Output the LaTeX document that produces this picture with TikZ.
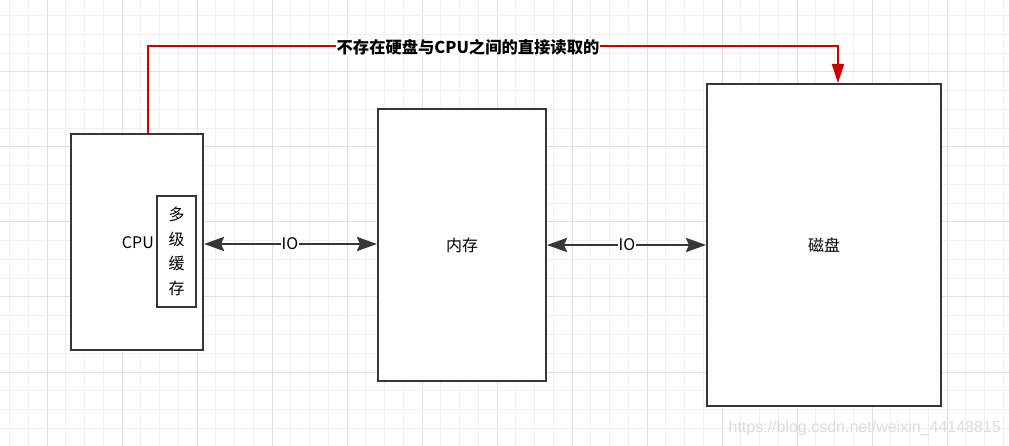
\documentclass[tikz,border=0pt]{standalone}
\usepackage{fontspec}
\setmainfont{Noto Sans CJK SC}
\newfontfamily\wmfont{Liberation Sans}
\usetikzlibrary{arrows.meta}
\definecolor{boxline}{HTML}{363636}
\definecolor{redline}{HTML}{CC0000}
\definecolor{gridminor}{HTML}{F0F0F0}
\definecolor{gridmajor}{HTML}{E0E0E0}
\definecolor{wmgray}{HTML}{DCDCDC}
\tikzset{
  box/.style={draw=boxline, line width=2pt, fill=white, inner sep=0pt},
  conn/.style={draw=boxline, line width=2.8pt, {Stealth[length=20pt,width=14pt,inset=3pt]}-{Stealth[length=20pt,width=14pt,inset=3pt]}},
  redconn/.style={draw=redline, line width=2pt, -{Triangle[length=19pt,width=12pt]}},
  lbl/.style={font=\fontsize{16}{18}\selectfont, text=black},
  edgelbl/.style={font=\fontsize{16}{18}\selectfont, fill=white, inner sep=1pt, text=black},
}
\begin{document}
\begin{tikzpicture}[x=1pt,y=-1pt]
\useasboundingbox (0,0) rectangle (1009,446);
\fill[white] (0,0) rectangle (1009,446);
% grid
\foreach \i in {0,...,54} {
  \pgfmathsetmacro{\gx}{9.5+18.75*\i}
  \pgfmathtruncatemacro{\m}{mod(\i,4)}
  \ifnum\m=2 \draw[gridmajor, line width=1pt] (\gx,0) -- (\gx,446);
  \else \draw[gridminor, line width=1pt] (\gx,0) -- (\gx,446); \fi
}
\foreach \i in {0,...,24} {
  \pgfmathsetmacro{\gy}{15.75+18.75*\i}
  \pgfmathtruncatemacro{\m}{mod(\i,4)}
  \ifnum\m=3 \draw[gridmajor, line width=1pt] (0,\gy) -- (1009,\gy);
  \else \draw[gridminor, line width=1pt] (0,\gy) -- (1009,\gy); \fi
}
% boxes
\node[box, minimum width=132pt, minimum height=216pt] (cpu) at (137,242) {};
\node[box, minimum width=39pt, minimum height=111pt] (cache) at (176.5,251.5) {};
\node[lbl, align=center, font=\fontsize{16}{24.5}\selectfont] (cachetxt) at (cache.center) {多\\级\\缓\\存};
\node[lbl, anchor=east, inner sep=0pt] (cputxt) at (154,243) {CPU};
\node[box, minimum width=168pt, minimum height=272pt] (mem) at (462,245) {};
\node[lbl] (memtxt) at (mem.center) {内存};
\node[box, minimum width=234pt, minimum height=322pt] (disk) at (824,245) {};
\node[lbl] (disktxt) at (disk.center) {磁盘};
% IO connectors
\draw[conn] (cpu.east |- 0,244) -- (mem.west |- 0,244);
\node[edgelbl] (io1) at (290,244) {IO};
\draw[conn] (mem.east) -- (disk.west);
\node[edgelbl] (io2) at (627,245) {IO};
% red connector
\coordinate (topy) at (0,46);
\coordinate (rstart) at ([xshift=11pt]cpu.north);
\coordinate (rend) at ([xshift=14pt]disk.north);
\draw[redconn] (rstart) |- (rend |- topy) -- (rend);
\node[edgelbl, font=\fontsize{16.3}{18}\selectfont\bfseries] (redlbl) at (468,47) {不存在硬盘与CPU之间的直接读取的};
% watermark
\node[text=wmgray, font=\wmfont\fontsize{16}{18}\selectfont, anchor=east, inner sep=0pt] (wm) at (1001,428) {https://blog.csdn.net/weixin\_44148815};
\end{tikzpicture}
\end{document}
